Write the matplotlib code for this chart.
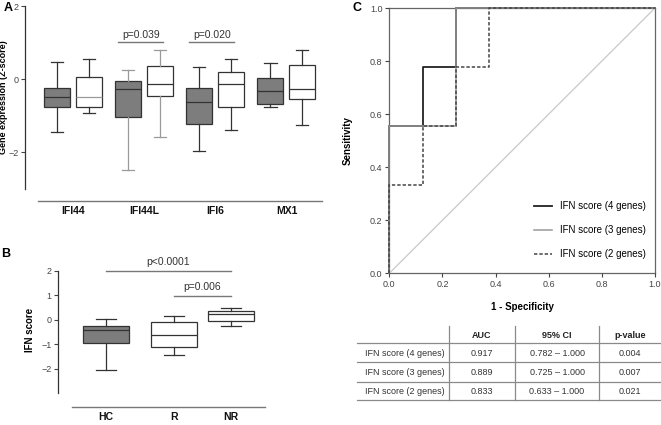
import matplotlib
matplotlib.use('Agg')
import matplotlib.pyplot as plt

plt.rcParams['font.family'] = ['Liberation Sans', 'DejaVu Sans']

# ---------------- data ----------------
genes = ['IFI44', 'IFI44L', 'IFI6', 'MX1']
# [whislo, q1, med, q3, whishi]
gray_stats = [[-1.45, -0.76, -0.48, -0.25, 0.46],
              [-2.48, -1.03, -0.28, -0.05, 0.25],
              [-1.97, -1.22, -0.62, -0.24, 0.33],
              [-0.77, -0.67, -0.31, 0.04, 0.45]]
white_stats = [[-0.91, -0.77, -0.49, 0.07, 0.55],
               [-1.58, -0.45, -0.13, 0.37, 0.80],
               [-1.40, -0.76, -0.13, 0.20, 0.55],
               [-1.26, -0.55, -0.26, 0.38, 0.79]]
pvals_A = ['p=0.039', 'p=0.020']
pvals_A_gene = [1, 2]
pvals_A_y = [1.03, 1.03]

groups_B = ['HC', 'R', 'NR']
stats_B = [[-2.03, -0.95, -0.41, -0.24, 0.03],
           [-1.43, -1.11, -0.64, -0.08, 0.15],
           [-0.27, -0.04, 0.23, 0.36, 0.47]]
fill_B = ['gray', 'white', 'white']
pvals_B = ['p<0.0001', 'p=0.006']
pvals_B_pair = [(0, 2), (1, 2)]
pvals_B_y = [1.99, 0.97]

roc_labels = ['IFN score (4 genes)', 'IFN score (3 genes)', 'IFN score (2 genes)']
fpr_4 = [0, 0, 0.125, 0.125, 0.25, 0.25, 1]
tpr_4 = [0, 0.556, 0.556, 0.778, 0.778, 1, 1]
fpr_3 = [0, 0, 0.25, 0.25, 1]
tpr_3 = [0, 0.556, 0.556, 1, 1]
fpr_2 = [0, 0, 0.125, 0.125, 0.25, 0.25, 0.375, 0.375, 1]
tpr_2 = [0, 0.333, 0.333, 0.556, 0.556, 0.778, 0.778, 1, 1]

table_header = ['', 'AUC', '95% CI', 'p-value']
table_auc = ['0.917', '0.889', '0.833']
table_ci = ['0.782 \u2013 1.000', '0.725 \u2013 1.000', '0.633 \u2013 1.000']
table_p = ['0.004', '0.007', '0.021']

# ---------------- figure ----------------
W, H = 661, 425
fig = plt.figure(figsize=(W / 100, H / 100), dpi=100)

def px_axes(l, t, r, b):
    return fig.add_axes([l / W, 1 - b / H, (r - l) / W, (b - t) / H])

DARK = '#333333'
LIGHT = '#9a9a9a'
GRAYFILL = '#7d7d7d'
TICKC = '#444444'

def mkstats(s):
    return dict(whislo=s[0], q1=s[1], med=s[2], q3=s[3], whishi=s[4], fliers=[])

def style_box(ax):
    for sp in ['top', 'right']:
        ax.spines[sp].set_visible(False)
    ax.spines['left'].set_color(DARK)
    ax.spines['left'].set_linewidth(0.9)
    ax.spines['bottom'].set_color('#777777')
    ax.spines['bottom'].set_linewidth(1.0)
    ax.tick_params(axis='y', colors=TICKC, labelsize=6.5, length=3, width=0.8, pad=1.5)
    ax.tick_params(axis='x', length=0, labelsize=7.5, pad=4)
    for t in ax.get_xticklabels():
        t.set_fontweight('bold')
        t.set_color('#111111')

# ---------------- panel A ----------------
axA = px_axes(25, 6, 322, 189)
off = 0.225
bw = 0.366
for i in range(len(genes)):
    c = i + 1
    wcol = LIGHT if i == 1 else DARK
    for k, (stats, dx, face) in enumerate([(gray_stats[i], -off, GRAYFILL), (white_stats[i], off, 'white')]):
        mcol = LIGHT if (i == 0 and k == 1) else DARK
        axA.bxp([mkstats(stats)], positions=[c + dx], widths=bw, capwidths=0.17,
                showfliers=False, patch_artist=True,
                boxprops=dict(facecolor=face, edgecolor=DARK, linewidth=0.9),
                medianprops=dict(color=mcol, linewidth=0.9),
                whiskerprops=dict(color=wcol, linewidth=0.9),
                capprops=dict(color=wcol, linewidth=0.9))
for lab, gi, yv in zip(pvals_A, pvals_A_gene, pvals_A_y):
    c = gi + 1
    x0, x1 = c - off - 0.14, c + off + 0.04
    axA.plot([x0, x1], [yv, yv], color='#777777', lw=1.0)
    axA.text((x0 + x1) / 2, yv + 0.04, lab, ha='center', va='bottom', fontsize=7.5, color='#333333')
axA.set_xlim(0.32, 4.5)
axA.set_ylim(-3, 2)
axA.set_yticks([2, 0, -2])
axA.set_xticks(range(1, len(genes) + 1))
axA.set_xticklabels(genes)
axA.spines['left'].set_bounds(-3, 2)
axA.spines['bottom'].set_bounds(0.5, 4.5)
axA.spines['bottom'].set_position(('outward', 8.6))
style_box(axA)
axA.set_ylabel('Gene expression (Z-score)', fontsize=6.5, fontweight='bold')
axA.yaxis.set_label_coords(-0.057, 0.5)

# ---------------- panel B ----------------
axB = px_axes(58, 270.7, 265, 393.3)
posB = [1, 2, 2.84]
for s, p, f in zip(stats_B, posB, fill_B):
    face = GRAYFILL if f == 'gray' else 'white'
    axB.bxp([mkstats(s)], positions=[p], widths=0.68, capwidths=0.3,
            showfliers=False, patch_artist=True,
            boxprops=dict(facecolor=face, edgecolor=DARK, linewidth=0.9),
            medianprops=dict(color=DARK, linewidth=0.9),
            whiskerprops=dict(color=DARK, linewidth=0.9),
            capprops=dict(color=DARK, linewidth=0.9))
for lab, (a, b), yv in zip(pvals_B, pvals_B_pair, pvals_B_y):
    x0, x1 = posB[a], posB[b]
    axB.plot([x0, x1], [yv, yv], color='#777777', lw=1.0, clip_on=False)
    axB.text((x0 + x1) / 2, yv + 0.17, lab, ha='center', va='bottom', fontsize=7.5, color='#333333')
axB.set_xlim(0.294, 3.34)
axB.set_ylim(-3, 2)
axB.set_yticks([2, 1, 0, -1, -2])
axB.set_xticks(posB)
axB.set_xticklabels(groups_B)
axB.spines['left'].set_bounds(-3, 2)
axB.spines['bottom'].set_bounds(0.5, 3.34)
axB.spines['bottom'].set_position(('outward', 9.6))
style_box(axB)
axB.set_ylabel('IFN score', fontsize=7, fontweight='bold')
axB.yaxis.set_label_coords(-0.111, 0.516)

# ---------------- panel C ----------------
axC = px_axes(389.3, 8, 655, 273.3)
axC.plot([0, 1], [0, 1], color='#c8c8c8', lw=0.9)
axC.plot(fpr_4, tpr_4, color='#222222', lw=1.3, label=roc_labels[0], clip_on=False)
axC.plot(fpr_3, tpr_3, color='#999999', lw=1.1, label=roc_labels[1], clip_on=False)
axC.plot(fpr_2, tpr_2, color='#444444', lw=1.1, ls=(0, (2.2, 1.3)), label=roc_labels[2], clip_on=False)
axC.set_xlim(0, 1)
axC.set_ylim(0, 1)
axC.set_xticks([0, 0.2, 0.4, 0.6, 0.8, 1.0])
axC.set_yticks([0, 0.2, 0.4, 0.6, 0.8, 1.0])
axC.xaxis.set_major_formatter(matplotlib.ticker.FormatStrFormatter('%.1f'))
axC.yaxis.set_major_formatter(matplotlib.ticker.FormatStrFormatter('%.1f'))
axC.tick_params(colors=TICKC, labelsize=6.5, length=3, width=0.8, pad=2)
for name, sp in axC.spines.items():
    sp.set_color('#666666')
    sp.set_linewidth(0.9)
    sp.set_zorder(0.5)
axC.set_xlabel('1 - Specificity', fontsize=7, fontweight='bold')
axC.xaxis.set_label_coords(0.5, -0.108)
axC.set_ylabel('Sensitivity', fontsize=7, fontweight='bold')
axC.yaxis.set_label_coords(-0.137, 0.5)
leg = axC.legend(loc='lower right', bbox_to_anchor=(1.0, 0.02), frameon=False, fontsize=7,
                 handlelength=1.9, handletextpad=0.85, labelspacing=1.45)

# ---------------- table ----------------
axT = fig.add_axes([0, 0, 1, 1])
axT.set_xlim(0, W)
axT.set_ylim(H, 0)
axT.axis('off')
LC = '#8a8a8a'
for yv in [343.3, 362, 381.7, 400]:
    axT.plot([357, 660], [yv, yv], color=LC, lw=0.9)
for xv in [449, 515, 599]:
    axT.plot([xv, xv], [326, 400], color=LC, lw=0.9)
col_x = [365, 482, 557, 630]
for j in range(1, 4):
    axT.text(col_x[j], 335, table_header[j], ha='center', va='center', fontsize=6.5,
             fontweight='bold', color='#222222')
for yv, name, a, c, p in zip([353, 372.5, 392], roc_labels, table_auc, table_ci, table_p):
    axT.text(col_x[0], yv, name, ha='left', va='center', fontsize=6.5, color='#333333')
    axT.text(col_x[1], yv, a, ha='center', va='center', fontsize=6.5, color='#333333')
    axT.text(col_x[2], yv, c, ha='center', va='center', fontsize=6.5, color='#333333')
    axT.text(col_x[3], yv, p, ha='center', va='center', fontsize=6.5, color='#333333')

# panel letters
axT.text(8, 8, 'A', ha='center', va='center', fontsize=9, fontweight='bold')
axT.text(6, 254, 'B', ha='center', va='center', fontsize=9, fontweight='bold')
axT.text(357, 8, 'C', ha='center', va='center', fontsize=9, fontweight='bold')

fig.savefig('out.png', dpi=100)
